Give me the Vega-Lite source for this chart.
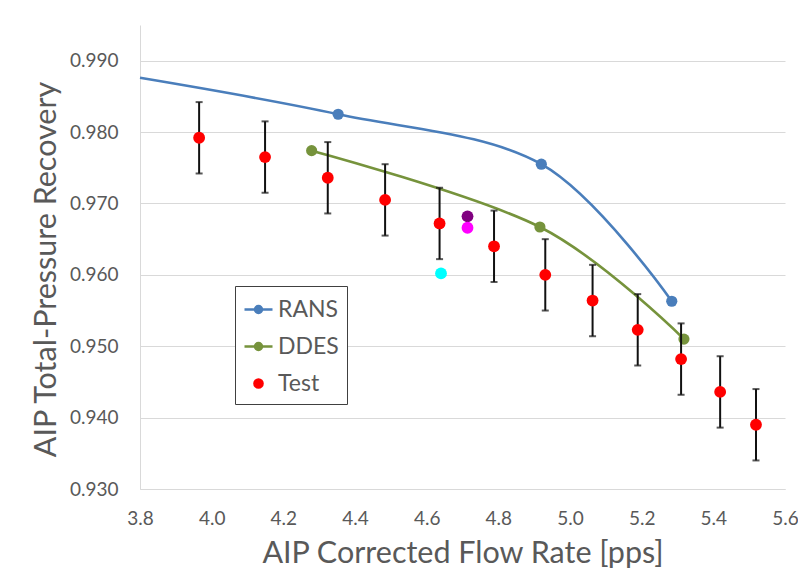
{
  "$schema": "https://vega.github.io/schema/vega-lite/v6.json",
  "width": 645,
  "height": 464,
  "autosize": {"type": "none"},
  "padding": {"left": 140, "top": 25, "right": 13, "bottom": 86},
  "background": "white",
  "config": {
    "font": "Lato",
    "view": {"stroke": null},
    "axis": {
      "labelFont": "Lato",
      "titleFont": "Lato",
      "labelColor": "#595959",
      "titleColor": "#595959",
      "labelFontSize": 19,
      "titleFontSize": 30.5,
      "titleFontWeight": "normal",
      "ticks": false,
      "labelFlush": false,
      "gridColor": "#D9D9D9",
      "domainColor": "#D9D9D9"
    },
    "legend": {
      "labelFont": "Lato",
      "labelFontSize": 23,
      "labelColor": "#595959"
    }
  },
  "resolve": {"legend": {"color": "independent", "shape": "independent"}},
  "data": {
    "values": [
      {"series": "RANS", "flow": 3.8, "recovery": 0.9876},
      {"series": "RANS", "flow": 4.353, "recovery": 0.9825},
      {"series": "RANS", "flow": 4.92, "recovery": 0.9755},
      {"series": "RANS", "flow": 5.284, "recovery": 0.9563},
      {"series": "DDES", "flow": 4.279, "recovery": 0.9774},
      {"series": "DDES", "flow": 4.916, "recovery": 0.9667},
      {"series": "DDES", "flow": 5.318, "recovery": 0.9510},
      {"series": "Test", "flow": 3.965, "recovery": 0.9792, "err": 0.005},
      {"series": "Test", "flow": 4.149, "recovery": 0.9765, "err": 0.005},
      {"series": "Test", "flow": 4.324, "recovery": 0.9736, "err": 0.005},
      {"series": "Test", "flow": 4.484, "recovery": 0.9705, "err": 0.005},
      {"series": "Test", "flow": 4.636, "recovery": 0.9672, "err": 0.005},
      {"series": "Test", "flow": 4.788, "recovery": 0.9640, "err": 0.005},
      {"series": "Test", "flow": 4.931, "recovery": 0.9600, "err": 0.005},
      {"series": "Test", "flow": 5.063, "recovery": 0.9564, "err": 0.005},
      {"series": "Test", "flow": 5.189, "recovery": 0.9523, "err": 0.005},
      {"series": "Test", "flow": 5.310, "recovery": 0.9482, "err": 0.005},
      {"series": "Test", "flow": 5.419, "recovery": 0.9436, "err": 0.005},
      {"series": "Test", "flow": 5.519, "recovery": 0.9390, "err": 0.005},
      {"series": "Point A", "flow": 4.640, "recovery": 0.9602},
      {"series": "Point B", "flow": 4.714, "recovery": 0.9682},
      {"series": "Point C", "flow": 4.714, "recovery": 0.9666}
    ]
  },
  "encoding": {
    "x": {
      "field": "flow",
      "type": "quantitative",
      "scale": {"domain": [3.8, 5.6], "nice": false, "zero": false},
      "axis": {
        "title": "AIP Corrected Flow Rate [pps]",
        "values": [3.8, 4.0, 4.2, 4.4, 4.6, 4.8, 5.0, 5.2, 5.4, 5.6],
        "format": ".1f",
        "grid": false,
        "labelPadding": 20,
        "titleBaseline": "alphabetic",
        "titleY": 73
      }
    },
    "y": {
      "field": "recovery",
      "type": "quantitative",
      "scale": {"domain": [0.93, 0.995], "nice": false, "zero": false},
      "axis": {
        "title": "AIP Total-Pressure Recovery",
        "values": [0.93, 0.94, 0.95, 0.96, 0.97, 0.98, 0.99],
        "format": ".3f",
        "labelPadding": 22,
        "titleBaseline": "alphabetic",
        "titleX": -85,
        "titleY": 244
      }
    }
  },
  "layer": [
    {
      "transform": [{"filter": "datum.series === 'RANS' || datum.series === 'DDES'"}],
      "mark": {"type": "line", "interpolate": "cardinal", "strokeWidth": 2.6},
      "encoding": {
        "color": {"field": "series", "type": "nominal", "legend": null,
          "scale": {"domain": ["RANS", "DDES", "Test", "Point A", "Point B", "Point C"],
                    "range": ["#4A7EBB", "#76933C", "#FF0000", "#00FFFF", "#800080", "#FF00FF"]}},
        "detail": {"field": "series"}
      }
    },
    {
      "transform": [{"filter": "(datum.series === 'RANS' || datum.series === 'DDES') && datum.flow > 3.8"}],
      "mark": {"type": "point", "filled": true, "opacity": 1, "size": 125},
      "encoding": {
        "color": {"field": "series", "type": "nominal", "legend": null}
      }
    },
    {
      "transform": [{"filter": "datum.series === 'Test'"}],
      "mark": {"type": "errorbar", "ticks": {"size": 7, "thickness": 2, "color": "#111111"}, "rule": {"strokeWidth": 2, "color": "#111111"}},
      "encoding": {
        "y": {"field": "recovery", "type": "quantitative"},
        "yError": {"field": "err"}
      }
    },
    {
      "transform": [{"filter": "datum.series !== 'RANS' && datum.series !== 'DDES'"}],
      "mark": {"type": "point", "filled": true, "opacity": 1, "size": 140},
      "encoding": {
        "color": {"field": "series", "type": "nominal", "legend": null}
      }
    },
    {
      "transform": [{"filter": "datum.series === 'RANS' || datum.series === 'DDES' || datum.series === 'Test'"}],
      "mark": {"type": "point", "filled": true, "opacity": 0},
      "encoding": {
        "color": {
          "field": "series", "type": "nominal",
          "legend": {
            "title": null,
            "values": ["RANS", "DDES", "Test"],
            "orient": "none",
            "legendX": 95,
            "legendY": 261,
            "padding": 8,
            "strokeColor": "#404040",
            "fillColor": "white",
            "symbolSize": 784,
            "symbolStrokeWidth": 2.5,
            "symbolOpacity": 1,
            "labelOffset": 4,
            "rowPadding": 9,
            "encode": {
              "symbols": {
                "update": {
                  "fill": {"scale": "color", "field": "value"},
                  "stroke": {"scale": "color", "field": "value"},
                  "shape": {"scale": "shape", "field": "value"}
                }
              }
            }
          }
        },
        "shape": {
          "field": "series", "type": "nominal", "legend": null,
          "scale": {
            "domain": ["RANS", "DDES", "Test"],
            "range": [
              "M-1,0L1,0M-0.25,0A0.25,0.25 0 1,1 0.25,0A0.25,0.25 0 1,1 -0.25,0Z",
              "M-1,0L1,0M-0.25,0A0.25,0.25 0 1,1 0.25,0A0.25,0.25 0 1,1 -0.25,0Z",
              "M-0.29,0A0.29,0.29 0 1,1 0.29,0A0.29,0.29 0 1,1 -0.29,0Z"
            ]
          }
        }
      }
    }
  ]
}
